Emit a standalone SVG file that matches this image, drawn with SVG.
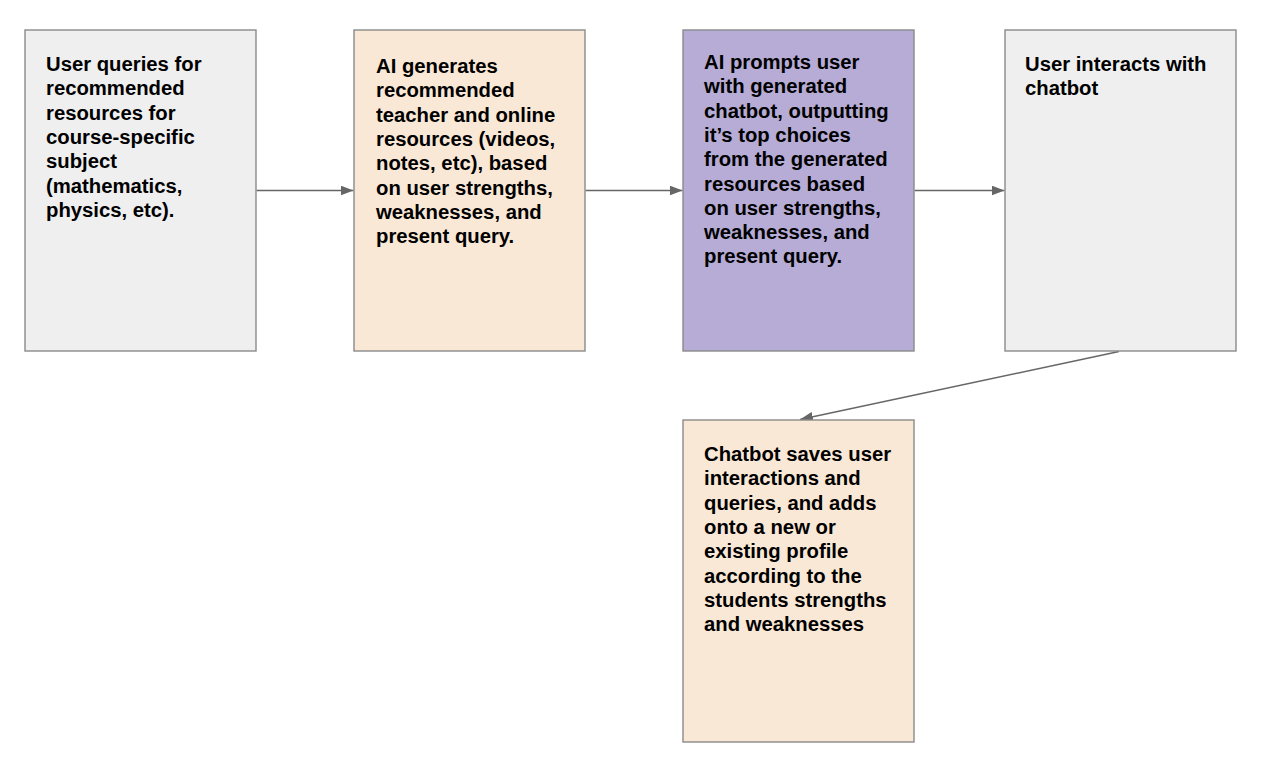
<svg xmlns="http://www.w3.org/2000/svg" width="1263" height="771" viewBox="0 0 1263 771">
<defs>
<style>
.box{stroke:#8a8a8a;stroke-width:1.4}
.gray{fill:#efefef}
.peach{fill:#fae8d6}
.purple{fill:#b6acd6}
.t{font-family:"Liberation Sans",Arial,sans-serif;font-weight:bold;font-size:20.3px;fill:#000}
.c{stroke:#666;stroke-width:1.4;fill:none}
</style>
<marker id="ah" markerWidth="13" markerHeight="10" viewBox="0 0 13 10" refX="13" refY="5" orient="auto" markerUnits="userSpaceOnUse">
<path d="M0,0 L13,5 L0,10 z" fill="#666"/>
</marker>
</defs>
<rect width="1263" height="771" fill="#fff"/>
<g id="connectors">
<line class="c" x1="256.5" y1="190.5" x2="353.5" y2="190.5" marker-end="url(#ah)"/>
<line class="c" x1="585.5" y1="190.5" x2="682.5" y2="190.5" marker-end="url(#ah)"/>
<line class="c" x1="914.5" y1="190.5" x2="1004.5" y2="190.5" marker-end="url(#ah)"/>
<line class="c" x1="1119" y1="351.5" x2="800" y2="419.5" marker-end="url(#ah)"/>
</g>
<g id="node1">
<rect class="box gray" x="25" y="30" width="231" height="321"/>
<text class="t" x="46"><tspan x="46" y="71">User queries for</tspan><tspan x="46" y="95.3">recommended</tspan><tspan x="46" y="119.6">resources for</tspan><tspan x="46" y="143.9">course-specific</tspan><tspan x="46" y="168.2">subject</tspan><tspan x="46" y="192.5">(mathematics,</tspan><tspan x="46" y="216.8">physics, etc).</tspan></text>
</g>
<g id="node2">
<rect class="box peach" x="354" y="30" width="231" height="321"/>
<text class="t"><tspan x="376" y="73">AI generates</tspan><tspan x="376" y="97.3">recommended</tspan><tspan x="376" y="121.6">teacher and online</tspan><tspan x="376" y="145.9">resources (videos,</tspan><tspan x="376" y="170.2">notes, etc), based</tspan><tspan x="376" y="194.5">on user strengths,</tspan><tspan x="376" y="218.8">weaknesses, and</tspan><tspan x="376" y="243.1">present query.</tspan></text>
</g>
<g id="node3">
<rect class="box purple" x="683" y="30" width="231" height="321"/>
<text class="t"><tspan x="704" y="69">AI prompts user</tspan><tspan x="704" y="93.3">with generated</tspan><tspan x="704" y="117.6">chatbot, outputting</tspan><tspan x="704" y="141.9">it’s top choices</tspan><tspan x="704" y="166.2">from the generated</tspan><tspan x="704" y="190.5">resources based</tspan><tspan x="704" y="214.8">on user strengths,</tspan><tspan x="704" y="239.1">weaknesses, and</tspan><tspan x="704" y="263.4">present query.</tspan></text>
</g>
<g id="node4">
<rect class="box gray" x="1005" y="30" width="231" height="321"/>
<text class="t"><tspan x="1025" y="71">User interacts with</tspan><tspan x="1025" y="95.3">chatbot</tspan></text>
</g>
<g id="node5">
<rect class="box peach" x="683" y="420" width="231" height="322"/>
<text class="t"><tspan x="704" y="461">Chatbot saves user</tspan><tspan x="704" y="485.3">interactions and</tspan><tspan x="704" y="509.6">queries, and adds</tspan><tspan x="704" y="533.9">onto a new or</tspan><tspan x="704" y="558.2">existing profile</tspan><tspan x="704" y="582.5">according to the</tspan><tspan x="704" y="606.8">students strengths</tspan><tspan x="704" y="631.1">and weaknesses</tspan></text>
</g>
</svg>
